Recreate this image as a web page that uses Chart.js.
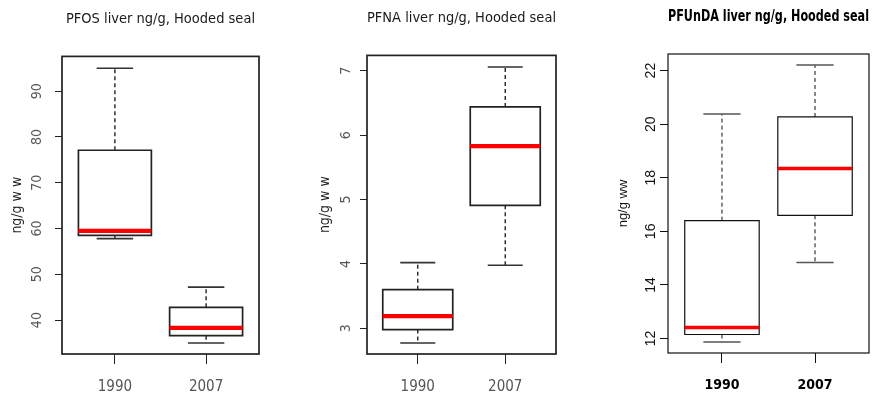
<!DOCTYPE html>
<html>
<head>
<meta charset="utf-8">
<script src="https://cdn.jsdelivr.net/npm/chart.js@4.4.1/dist/chart.umd.min.js"></script>
<style>
html, body { margin: 0; padding: 0; background: #fff; }
#wrap { position: relative; width: 872px; height: 399px; overflow: hidden; }
.panel { position: absolute; top: 0; height: 399px; }
</style>
</head>
<body>
<div id="wrap">
  <div class="panel" style="left:0px;width:290px"><canvas id="pfos"></canvas></div>
  <div class="panel" style="left:290px;width:290px"><canvas id="pfna"></canvas></div>
  <div class="panel" style="left:580px;width:292px"><canvas id="pfunda"></canvas></div>
</div>
<script>
// groups on the x axis
const YEARS = ['1990', '2007'];

// PFOS liver, ng/g ww (whisker low, Q1, median, Q3, whisker high)
const PFOS_MIN = [57.8, 35.0];
const PFOS_Q1  = [58.5, 36.6];
const PFOS_MED = [59.5, 38.3];
const PFOS_Q3  = [77.1, 42.8];
const PFOS_MAX = [95.0, 47.2];
const PFOS_TICKS = [40, 50, 60, 70, 80, 90];
const PFOS_RANGE = [32.6, 97.6];

// PFNA liver
const PFNA_MIN = [2.77, 3.98];
const PFNA_Q1  = [2.98, 4.91];
const PFNA_MED = [3.19, 5.83];
const PFNA_Q3  = [3.60, 6.44];
const PFNA_MAX = [4.02, 7.06];
const PFNA_TICKS = [3, 4, 5, 6, 7];
const PFNA_RANGE = [2.60, 7.24];

// PFUnDA liver
const PFUNDA_MIN = [11.87, 14.84];
const PFUNDA_Q1  = [12.15, 16.60];
const PFUNDA_MED = [12.41, 18.35];
const PFUNDA_Q3  = [16.40, 20.27];
const PFUNDA_MAX = [20.38, 22.21];
const PFUNDA_TICKS = [12, 14, 16, 18, 20, 22];
const PFUNDA_RANGE = [11.46, 22.62];

const X_RANGE = [0.42, 2.58];
const BOX_HALF = 0.4;
const CAP_HALF = 0.2;

const NARROW = "'Liberation Sans Narrow', 'DejaVu Sans Condensed', Arial, sans-serif";
const SANS = "'Liberation Sans', Arial, sans-serif";

// box plot pieces as line datasets (gaps split the segments)
function boxDatasets(mn, q1, med, q3, mx, look) {
  const whisk = [], caps = [], boxes = [], meds = [];
  YEARS.forEach((y, i) => {
    const c = i + 1;
    whisk.push({x: c, y: q3[i]}, {x: c, y: mx[i]}, {x: c, y: null},
               {x: c, y: q1[i]}, {x: c, y: mn[i]}, {x: c, y: null});
    caps.push({x: c - CAP_HALF, y: mx[i]}, {x: c + CAP_HALF, y: mx[i]}, {x: c, y: null},
              {x: c - CAP_HALF, y: mn[i]}, {x: c + CAP_HALF, y: mn[i]}, {x: c, y: null});
    boxes.push({x: c - BOX_HALF, y: q1[i]}, {x: c + BOX_HALF, y: q1[i]},
               {x: c + BOX_HALF, y: q3[i]}, {x: c - BOX_HALF, y: q3[i]},
               {x: c - BOX_HALF, y: q1[i]}, {x: c + BOX_HALF, y: q1[i]}, {x: c, y: null});
    meds.push({x: c - BOX_HALF, y: med[i]}, {x: c + BOX_HALF, y: med[i]}, {x: c, y: null});
  });
  const base = {showLine: true, pointRadius: 0, fill: false, spanGaps: false, tension: 0,
                borderCapStyle: 'butt', borderJoinStyle: 'miter'};
  return [
    {...base, data: meds, borderColor: '#ff0000', borderWidth: look.medW, order: 0},
    {...base, data: boxes, borderColor: look.line, borderWidth: look.boxW, order: 1},
    {...base, data: caps, borderColor: look.cap, borderWidth: look.capW, order: 2},
    {...base, data: whisk, borderColor: look.line, borderWidth: look.dashW, borderDash: [4, 3], order: 3}
  ];
}

const framePlugin = {
  id: 'frame',
  afterDraw(chart, args, opts) {
    const a = chart.chartArea, ctx = chart.ctx;
    ctx.save();
    ctx.strokeStyle = opts.color;
    ctx.lineWidth = opts.width;
    ctx.strokeRect(a.left, a.top, a.right - a.left, a.bottom - a.top);
    ctx.restore();
  }
};

function makeChart(id, stats, ticks, range, look) {
  new Chart(document.getElementById(id), {
    type: 'scatter',
    data: {datasets: boxDatasets(...stats, look)},
    options: {
      animation: false,
      responsive: true,
      maintainAspectRatio: false,
      layout: {padding: {left: 0, right: look.padRight, top: 0, bottom: 0}},
      plugins: {
        legend: {display: false},
        tooltip: {enabled: false},
        frame: {color: look.line, width: look.frameW},
        title: {
          display: true, text: look.title, fullSize: false, color: look.titleColor,
          font: {family: NARROW, size: look.titleSize, weight: look.titleWeight, lineHeight: 1.2},
          padding: {top: look.titleTop, bottom: look.titleBottom}
        }
      },
      scales: {
        x: {
          type: 'linear', min: X_RANGE[0], max: X_RANGE[1],
          afterBuildTicks: s => { s.ticks = YEARS.map((y, i) => ({value: i + 1})); },
          afterFit: s => { s.height = 399 - look.plotBottom; s.paddingLeft = 0; s.paddingRight = 0; },
          border: {display: false},
          grid: {display: true, drawOnChartArea: false, drawTicks: true, tickLength: 10,
                 color: look.line, lineWidth: 1},
          ticks: {autoSkip: false, maxRotation: 0, padding: look.xPad, color: look.xColor,
                  font: {family: NARROW, size: look.xSize, weight: look.xWeight},
                  callback: v => YEARS[v - 1]}
        },
        y: {
          min: range[0], max: range[1],
          afterBuildTicks: s => { s.ticks = ticks.map(v => ({value: v})); },
          afterFit: s => { s.width = look.axisW; s.paddingTop = 0; s.paddingBottom = 0; },
          border: {display: false},
          grid: {display: true, drawOnChartArea: false, drawTicks: true, tickLength: look.yTick,
                 color: look.line, lineWidth: 1},
          ticks: {autoSkip: false, minRotation: 90, maxRotation: 90, crossAlign: 'center',
                  padding: look.yPad, color: look.yColor,
                  font: {family: look.yFont, size: look.yFontSize}},
          title: {display: true, text: look.yTitle, color: look.yTitleColor,
                  font: {family: look.yTitleFont, size: look.yTitleSize, lineHeight: 1.2},
                  padding: {top: look.yTitlePad, bottom: 0}}
        }
      }
    },
    plugins: [framePlugin]
  });
}

const greyLook = {
  line: '#222', cap: '#333', boxW: 1.7, capW: 1.6, dashW: 1.4, medW: 4.2, frameW: 1.7,
  titleColor: '#1a1a1a', titleWeight: 'normal', titleSize: 14.5,
  xWeight: 'normal', xColor: '#555', xPad: 14, xSize: 15,
  yFont: NARROW, yFontSize: 14, yColor: '#555', yTick: 7,
  yTitle: 'ng/g w w', yTitleColor: '#222', yTitleFont: NARROW, yTitleSize: 14
};

makeChart('pfos',
  [PFOS_MIN, PFOS_Q1, PFOS_MED, PFOS_Q3, PFOS_MAX], PFOS_TICKS, PFOS_RANGE,
  {...greyLook, title: 'PFOS liver ng/g, Hooded seal', padRight: 31, axisW: 62, plotBottom: 354,
   titleTop: 11, titleBottom: 28, yPad: 10, yTitlePad: 9});

makeChart('pfna',
  [PFNA_MIN, PFNA_Q1, PFNA_MED, PFNA_Q3, PFNA_MAX], PFNA_TICKS, PFNA_RANGE,
  {...greyLook, title: 'PFNA liver ng/g, Hooded seal', padRight: 24, axisW: 77, plotBottom: 354,
   titleTop: 10, titleBottom: 28, yPad: 10, yTitlePad: 27});

makeChart('pfunda',
  [PFUNDA_MIN, PFUNDA_Q1, PFUNDA_MED, PFUNDA_Q3, PFUNDA_MAX], PFUNDA_TICKS, PFUNDA_RANGE,
  {line: '#111', cap: '#555', boxW: 1.2, capW: 1.5, dashW: 1, medW: 3.5, frameW: 1.2,
   title: 'PFUnDA liver ng/g, Hooded seal', titleColor: '#000', titleWeight: 'bold', titleSize: 15,
   xWeight: 'bold', xColor: '#000', xPad: 14, xSize: 14,
   yFont: SANS, yFontSize: 14, yColor: '#111', yTick: 8,
   yTitle: 'ng/g ww', yTitleColor: '#111', yTitleFont: SANS, yTitleSize: 13,
   padRight: 3, axisW: 88, plotBottom: 353, titleTop: 8, titleBottom: 28, yPad: 1, yTitlePad: 36});
</script>
</body>
</html>
